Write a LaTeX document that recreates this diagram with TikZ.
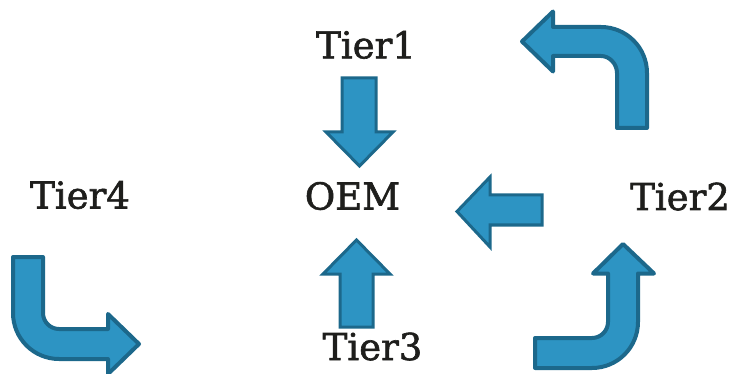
\documentclass[tikz,border=0pt]{standalone}
\usepackage{fontspec}
\setmainfont{DejaVu Serif}
\newfontfamily\tierfont[FakeBold=1.6]{DejaVu Serif}
\definecolor{arrowfill}{HTML}{2D94C3}
\definecolor{arrowline}{HTML}{1C688B}
\definecolor{labeltext}{HTML}{1E1E1C}
\tikzset{
  label/.style={anchor=base, inner sep=0pt, text=labeltext,
    font=\tierfont\fontsize{37}{40}\selectfont},
  bentarrow/.style={fill=arrowfill, draw=arrowline, line width=4pt, line join=round},
  straightarrow/.style={fill=arrowfill, draw=arrowline, line width=3pt, line join=miter}
}
\begin{document}
\begin{tikzpicture}[x=1pt, y=-1pt]
\useasboundingbox (0,0) rectangle (736,374);

% bent arrow, top right: up then left
\draw[bentarrow] (522,41.5) -- (553,11.5) -- (553,27) -- (601,27)
  .. controls (626.4,27) and (647,47.6) .. (647,73)
  -- (647,128) -- (617,128) -- (617,73)
  .. controls (617,64.2) and (609.8,56) .. (601,56)
  -- (553,56) -- (553,71.5) -- cycle;

% bent arrow, bottom left: down then right
\draw[bentarrow] (13,257) -- (43,257) -- (43,313)
  .. controls (43,321.8) and (50.2,329) .. (59,329)
  -- (108,329) -- (108,314) -- (139,344) -- (108,374) -- (108,359) -- (59,359)
  .. controls (33.6,359) and (13,338.4) .. (13,313) -- cycle;

% bent arrow, bottom right: right then up
\draw[bentarrow] (535,338) -- (592,338)
  .. controls (600.8,338) and (608,330.8) .. (608,322)
  -- (608,273.5) -- (593,273.5) -- (623,244) -- (654,273.5) -- (638,273.5) -- (638,322)
  .. controls (638,347.4) and (617.4,368) .. (592,368)
  -- (535,368) -- cycle;

% straight arrows into the centre
\draw[straightarrow] (342,78) -- (376,78) -- (376,132) -- (393,132) -- (359.5,166)
  -- (326,132) -- (342,132) -- cycle;
\draw[straightarrow] (340,327) -- (373,327) -- (373,274) -- (390,274) -- (356.5,240)
  -- (323,274) -- (340,274) -- cycle;
\draw[straightarrow] (542,195) -- (542,225) -- (490,225) -- (490,247) -- (457,211.5)
  -- (490,177) -- (490,195) -- cycle;

% labels
\node[label] (oem) at (352.5,209.5) {OEM};
\node[label] (t1) at (366,58.3) {Tier1};
\node[label] (t2) at (680,210) {Tier2};
\node[label] (t3) at (372.5,360) {Tier3};
\node[label] (t4) at (80,208.5) {Tier4};
\end{tikzpicture}
\end{document}
